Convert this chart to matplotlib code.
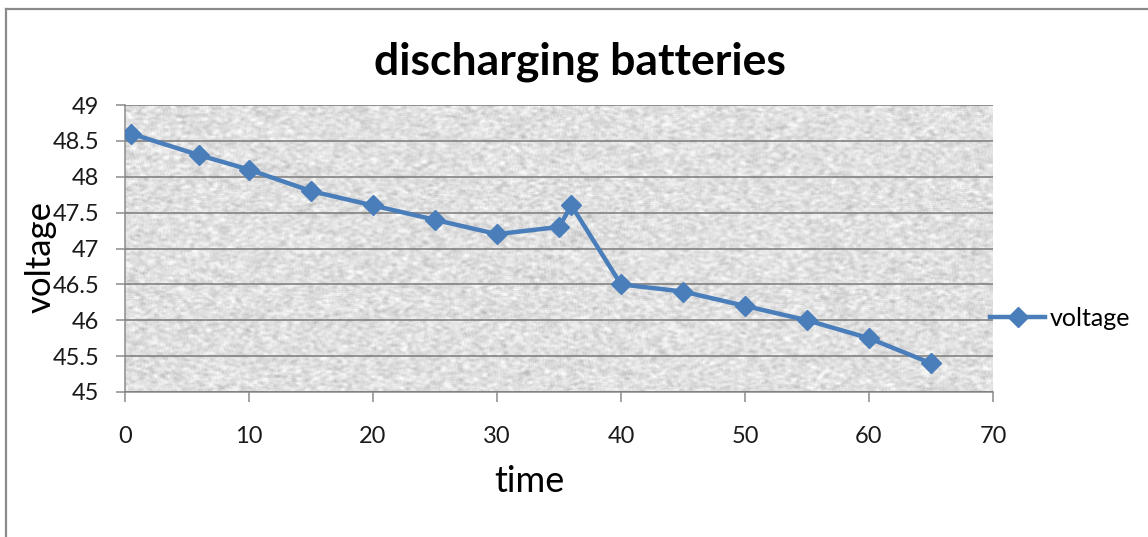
import numpy as np
import matplotlib
matplotlib.use('Agg')
from matplotlib import pyplot as plt
from matplotlib.lines import Line2D

plt.rcParams['font.family'] = ['Lato', 'DejaVu Sans']

# 数据
time = [0.5, 6, 10, 15, 20, 25, 30, 35, 36, 40, 45, 50, 55, 60, 65]
voltage = [48.6, 48.3, 48.1, 47.8, 47.6, 47.4, 47.2, 47.3, 47.6,
           46.5, 46.4, 46.2, 46.0, 45.75, 45.4]
x_ticks = [0, 10, 20, 30, 40, 50, 60, 70]
y_ticks = [45, 45.5, 46, 46.5, 47, 47.5, 48, 48.5, 49]
y_tick_labels = ['45', '45.5', '46', '46.5', '47', '47.5', '48', '48.5', '49']

W, H = 1148, 537
fig = plt.figure(figsize=(W / 100, H / 100), dpi=100)
ax = fig.add_axes([125 / W, 1 - 392 / H, (993 - 125) / W, (392 - 105) / H])

# 背景纹理（仅装饰）
rng = np.random.default_rng(3)
tex = rng.normal(size=(290, 870))
k = np.ones(5) / 5
tex = np.apply_along_axis(lambda r: np.convolve(r, k, mode='same'), 1, tex)
tex = np.apply_along_axis(lambda c: np.convolve(c, np.ones(3) / 3, mode='same'), 0, tex)
gray = np.clip(0.88 + 0.15 * tex, 0.74, 0.99)
ax.imshow(np.dstack([gray, gray, gray]), extent=[0, 1, 0, 1],
          transform=ax.transAxes, aspect='auto', zorder=0, interpolation='bilinear')

blue = '#4A7EBB'
ax.plot(time, voltage, color=blue, lw=3.2, marker='D', markersize=10,
        markerfacecolor=blue, markeredgecolor=blue, zorder=3)

ax.set_xlim(0, 70)
ax.set_ylim(45, 49)
ax.set_xticks(x_ticks)
ax.set_yticks(y_ticks)
ax.set_yticklabels(y_tick_labels)
ax.yaxis.grid(True, color='#7a7a7a', lw=1.1, zorder=1)
ax.set_axisbelow(False)
for s in ['top', 'right']:
    ax.spines[s].set_visible(False)
for s in ['left', 'bottom']:
    ax.spines[s].set_color('#8c8c8c')
    ax.spines[s].set_linewidth(1.1)
ax.tick_params(axis='x', length=7, width=1.1, color='#8c8c8c', pad=17.5,
               labelsize=17, labelcolor='#1a1a1a')
ax.tick_params(axis='y', length=6.5, width=1.1, color='#8c8c8c', pad=12,
               labelsize=17, labelcolor='#1a1a1a')

fig.text(580 / W, 1 - 62 / H, 'discharging batteries', fontsize=32,
         fontweight='bold', ha='center', va='center')
fig.text(529 / W, 1 - 482 / H, 'time', fontsize=26, ha='center', va='center')
fig.text(41 / W, 1 - 257 / H, 'voltage', fontsize=25, ha='center', va='center',
         rotation=90)

# 图例
handle = Line2D([], [], color=blue, lw=3.2, marker='D', markersize=10)
fig.legend([handle], ['voltage'], loc='center left',
           bbox_to_anchor=(990 / W, 1 - 318 / H), frameon=False, fontsize=18,
           handlelength=2.2, handletextpad=0.2, borderaxespad=0, borderpad=0)

# 外框
fig.add_artist(Line2D([6 / W, 6 / W], [0, 1 - 9 / H], transform=fig.transFigure,
                      color='#8a8a8a', lw=1.6))
fig.add_artist(Line2D([6 / W, 1], [1 - 9 / H, 1 - 9 / H], transform=fig.transFigure,
                      color='#8a8a8a', lw=1.6))

fig.savefig('out.png', dpi=100)
